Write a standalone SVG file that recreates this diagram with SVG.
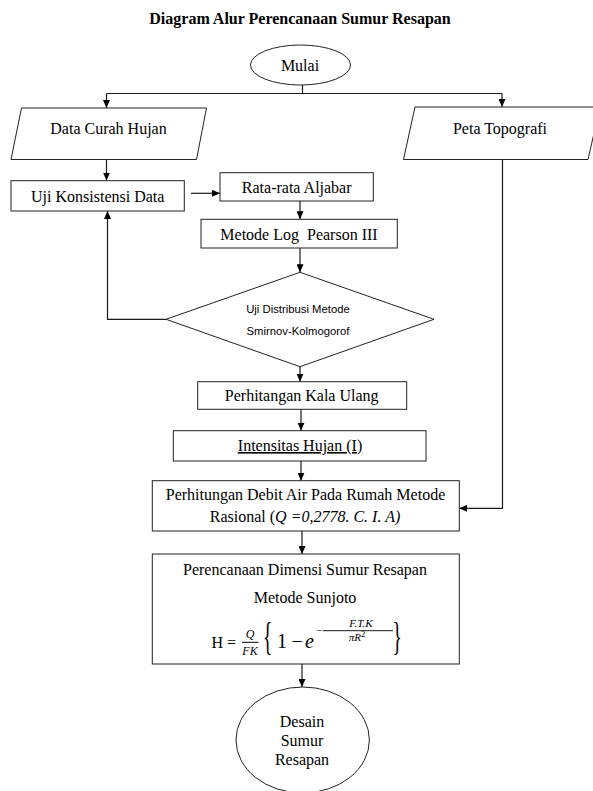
<svg xmlns="http://www.w3.org/2000/svg" width="593" height="791" viewBox="0 0 593 791">
<style>
.t{font-family:"Liberation Serif","Times New Roman",serif;font-size:16px;fill:#000;text-anchor:middle}
.b{fill:#fff;stroke:#222;stroke-width:1}
.c{fill:none;stroke:#1a1a1a;stroke-width:1.2}
.s{font-family:"Liberation Sans",Arial,sans-serif;font-size:11.3px;fill:#000;text-anchor:middle}
.m{font-family:"Liberation Serif","Times New Roman",serif;fill:#000}
</style>
<defs>
<marker id="arr" viewBox="0 0 8 7" refX="8" refY="3.5" markerWidth="8" markerHeight="7" markerUnits="userSpaceOnUse" orient="auto">
<path d="M0,0 L8,3.5 L0,7 z" fill="#000"/>
</marker>
</defs>
<rect width="593" height="791" fill="#fff"/>
<text x="300" y="24" class="t" font-weight="bold">Diagram Alur Perencanaan Sumur Resapan</text>

<g id="connectors">
<path class="c" d="M302.5,85 V93.5"/>
<path class="c" d="M106.5,93.5 H502"/>
<path class="c" d="M106.5,93.5 V108" marker-end="url(#arr)"/>
<path class="c" d="M502,93.5 V107" marker-end="url(#arr)"/>
<path class="c" d="M106.5,160 V180.5" marker-end="url(#arr)"/>
<path class="c" d="M191,193.3 H220" marker-end="url(#arr)"/>
<path class="c" d="M300,201 V219.3" marker-end="url(#arr)"/>
<path class="c" d="M300,248 V272.3" marker-end="url(#arr)"/>
<path class="c" d="M166,319.3 H107.5 V211" marker-end="url(#arr)"/>
<path class="c" d="M300,366.7 V381.7" marker-end="url(#arr)"/>
<path class="c" d="M301,409.3 V430.7" marker-end="url(#arr)"/>
<path class="c" d="M301,461 V480.7" marker-end="url(#arr)"/>
<path class="c" d="M502.5,160 V508.3 H459.3" marker-end="url(#arr)"/>
<path class="c" d="M302,531 V554" marker-end="url(#arr)"/>
<path class="c" d="M302,664 V687" marker-end="url(#arr)"/>
</g>

<g id="mulai">
<ellipse class="b" cx="300.5" cy="65" rx="50" ry="20"/>
<text x="300" y="71" class="t">Mulai</text>
</g>

<g id="data-curah-hujan">
<polygon class="b" points="21.5,108 206.5,108 196.5,159.5 11,159.5"/>
<text x="108.5" y="134" class="t">Data Curah Hujan</text>
</g>

<g id="peta-topografi">
<polygon class="b" points="415,107 600,107 588,159.5 403.5,159.5"/>
<text x="500" y="134" class="t">Peta Topografi</text>
</g>

<g id="uji-konsistensi">
<rect class="b" x="11" y="180.7" width="173.3" height="30.3"/>
<text x="97.7" y="201.5" class="t">Uji Konsistensi Data</text>
</g>

<g id="rata-rata">
<rect class="b" x="220" y="172.7" width="153.3" height="28.3"/>
<text x="296.7" y="193" class="t">Rata-rata Aljabar</text>
</g>

<g id="log-pearson">
<rect class="b" x="201" y="219.3" width="196.3" height="28.7"/>
<text x="299" y="240" class="t" xml:space="preserve">Metode Log  Pearson III</text>
</g>

<g id="uji-distribusi">
<polygon class="b" points="300,272.3 434,319.3 300,366.7 166,319.3"/>
<text x="298" y="313" class="s">Uji Distribusi Metode</text>
<text x="298" y="335" class="s">Smirnov-Kolmogorof</text>
</g>

<g id="kala-ulang">
<rect class="b" x="197.7" y="381.7" width="209" height="27.6"/>
<text x="301.7" y="401" class="t">Perhitangan Kala Ulang</text>
</g>

<g id="intensitas">
<rect class="b" x="173.3" y="430.7" width="252.7" height="30.3"/>
<text x="300" y="451" class="t" text-decoration="underline">Intensitas Hujan (I)</text>
</g>

<g id="debit">
<rect class="b" x="152.3" y="480.7" width="307" height="50.3"/>
<text x="305.5" y="500" class="t">Perhitungan Debit Air Pada Rumah Metode</text>
<text x="305" y="522" class="t">Rasional (<tspan font-style="italic">Q =0,2778. C. I. A)</tspan></text>
</g>

<g id="perencanaan">
<rect class="b" x="152.3" y="554" width="307" height="110"/>
<text x="305" y="575" class="t">Perencanaan Dimensi Sumur Resapan</text>
<text x="305" y="603" class="t">Metode Sunjoto</text>
<text x="211.5" y="648" class="m" font-size="16">H =</text>
<text x="250" y="638" class="m" font-size="12" font-style="italic" text-anchor="middle">Q</text>
<line x1="242" y1="642.3" x2="258.5" y2="642.3" stroke="#000" stroke-width="1"/>
<text x="250" y="654.5" class="m" font-size="12" font-style="italic" text-anchor="middle">FK</text>
<text class="m" font-size="39" transform="translate(263,650) scale(0.5,1)">{</text>
<text x="277" y="648" class="m" font-size="20">1</text>
<text x="291.5" y="648" class="m" font-size="20">−</text>
<text x="305" y="648" class="m" font-size="20" font-style="italic">e</text>
<text x="316" y="634" class="m" font-size="11">−</text>
<line x1="323" y1="630.7" x2="393" y2="630.7" stroke="#000" stroke-width="0.9"/>
<text x="361" y="627" class="m" font-size="11" font-style="italic" text-anchor="middle">F.T.K</text>
<text x="357" y="641" class="m" font-size="11" font-style="italic" text-anchor="middle">πR<tspan font-size="8.5" font-style="normal" dy="-4">2</tspan></text>
<text class="m" font-size="39" transform="translate(392.5,650) scale(0.5,1)">}</text>
</g>

<g id="desain">
<ellipse class="b" cx="302.7" cy="740" rx="66.7" ry="53"/>
<text x="302" y="727" class="t">Desain</text>
<text x="302" y="746" class="t">Sumur</text>
<text x="302" y="765" class="t">Resapan</text>
</g>
</svg>
